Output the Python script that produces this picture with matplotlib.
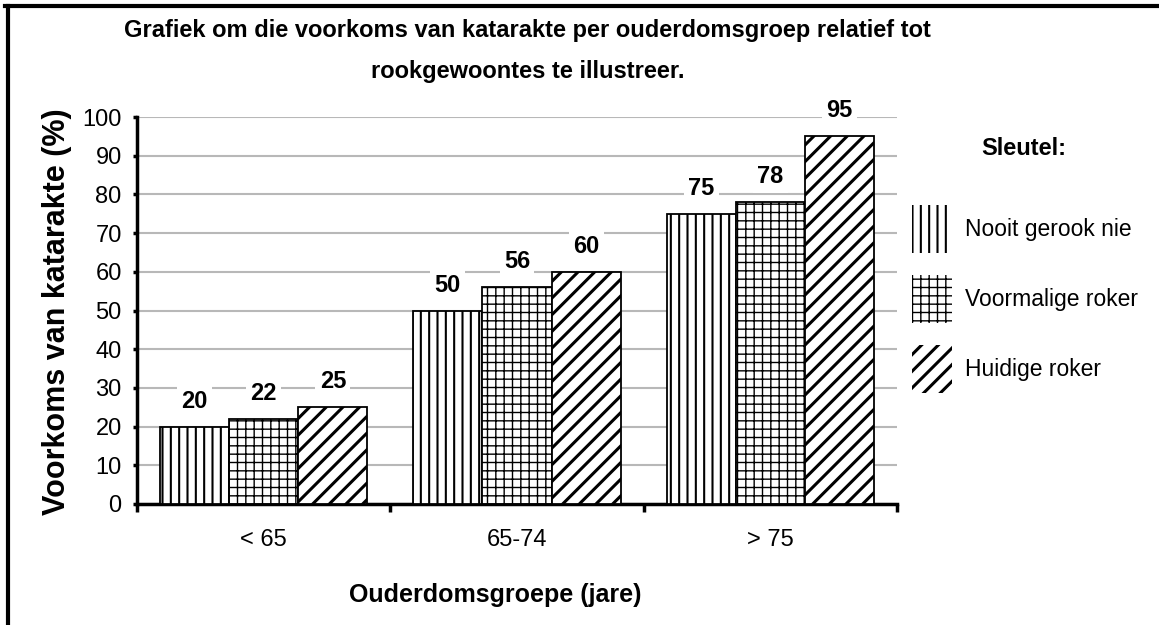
import matplotlib
matplotlib.use("Agg")
import matplotlib.pyplot as plt
from matplotlib.patches import Patch
from matplotlib.lines import Line2D
import numpy as np

# data
groups = ["< 65", "65-74", "> 75"]
never = [20, 50, 75]
former = [22, 56, 78]
current = [25, 60, 95]
series_names = ["Nooit gerook nie", "Voormalige roker", "Huidige roker"]
hatches = ["||", "++", "//"]
hatch_widths = [1.5, 1.0, 2.2]

plt.rcParams['font.family'] = ['Liberation Sans', 'DejaVu Sans']

fig = plt.figure(figsize=(11.59, 6.25), dpi=100)
ax = fig.add_axes([0.1182, 0.1936, 0.6558, 0.6192])

x = np.arange(len(groups))
w = 0.273
for i, vals in enumerate([never, former, current]):
    with plt.rc_context({'hatch.linewidth': hatch_widths[i]}):
        b = ax.bar(x + (i - 1) * w, vals, w, facecolor='white', edgecolor='black',
                   linewidth=1.3, hatch=hatches[i], zorder=3, label=series_names[i])
    ax.bar_label(b, padding=10, fontsize=17, fontweight='bold',
                 bbox=dict(facecolor='white', edgecolor='none', pad=3), zorder=4)

ax.set_xlim(-0.5, 2.5)
ax.set_ylim(0, 100)
ax.set_yticks(range(0, 101, 10))
ax.yaxis.grid(True, color='#b8b8b8', linewidth=1.5, zorder=0)
ax.set_axisbelow(True)

ax.set_xticks(x)
ax.set_xticklabels(groups)
ax.set_xticks([-0.5, 0.5, 1.5, 2.5], minor=True)
ax.tick_params(axis='x', which='major', length=0, pad=18, labelsize=17)
ax.tick_params(axis='x', which='minor', length=6, width=2.5, direction='out')
ax.tick_params(axis='y', length=3, width=2.5, pad=8, labelsize=17)

for side in ['top', 'right']:
    ax.spines[side].set_visible(False)
for side in ['left', 'bottom']:
    ax.spines[side].set_linewidth(2.5)

ax.set_ylabel("Voorkoms van katarakte (%)", fontsize=22, fontweight='bold')
ax.yaxis.set_label_coords(-0.086, 0.496)
ax.set_xlabel("Ouderdomsgroepe (jare)", fontsize=18, fontweight='bold')
ax.xaxis.set_label_coords(0.471, -0.204)

fig.text(0.455, 0.952, "Grafiek om die voorkoms van katarakte per ouderdomsgroep relatief tot",
         ha='center', va='center', fontsize=17, fontweight='bold')
fig.text(0.455, 0.885, "rookgewoontes te illustreer.",
         ha='center', va='center', fontsize=17, fontweight='bold')

# key
fig.text(0.8835, 0.7624, "Sleutel:", ha='center', va='center', fontsize=17, fontweight='bold')
handles = []
for h, hw in zip(hatches, hatch_widths):
    with plt.rc_context({'hatch.linewidth': hw}):
        handles.append(Patch(facecolor='white', edgecolor='black', linewidth=0, hatch=h))
leg = ax.legend(handles, series_names, loc='upper left', bbox_to_anchor=(0.787, 0.672),
                bbox_transform=fig.transFigure, frameon=False, fontsize=16.5,
                handlelength=1.75, handleheight=2.85, labelspacing=0.96,
                handletextpad=0.57, borderpad=0, borderaxespad=0)
for p, hw in zip(leg.get_patches(), hatch_widths):
    if hasattr(p, 'set_hatch_linewidth'):
        p.set_hatch_linewidth(hw)
    else:
        p._hatch_linewidth = hw

# border lines round the figure (top and left only)
fig.add_artist(Line2D([0.004, 1.0], [0.991, 0.991], color='black', linewidth=3))
fig.add_artist(Line2D([0.007, 0.007], [0.0, 0.991], color='black', linewidth=3))

fig.savefig("out.png", dpi=100)
